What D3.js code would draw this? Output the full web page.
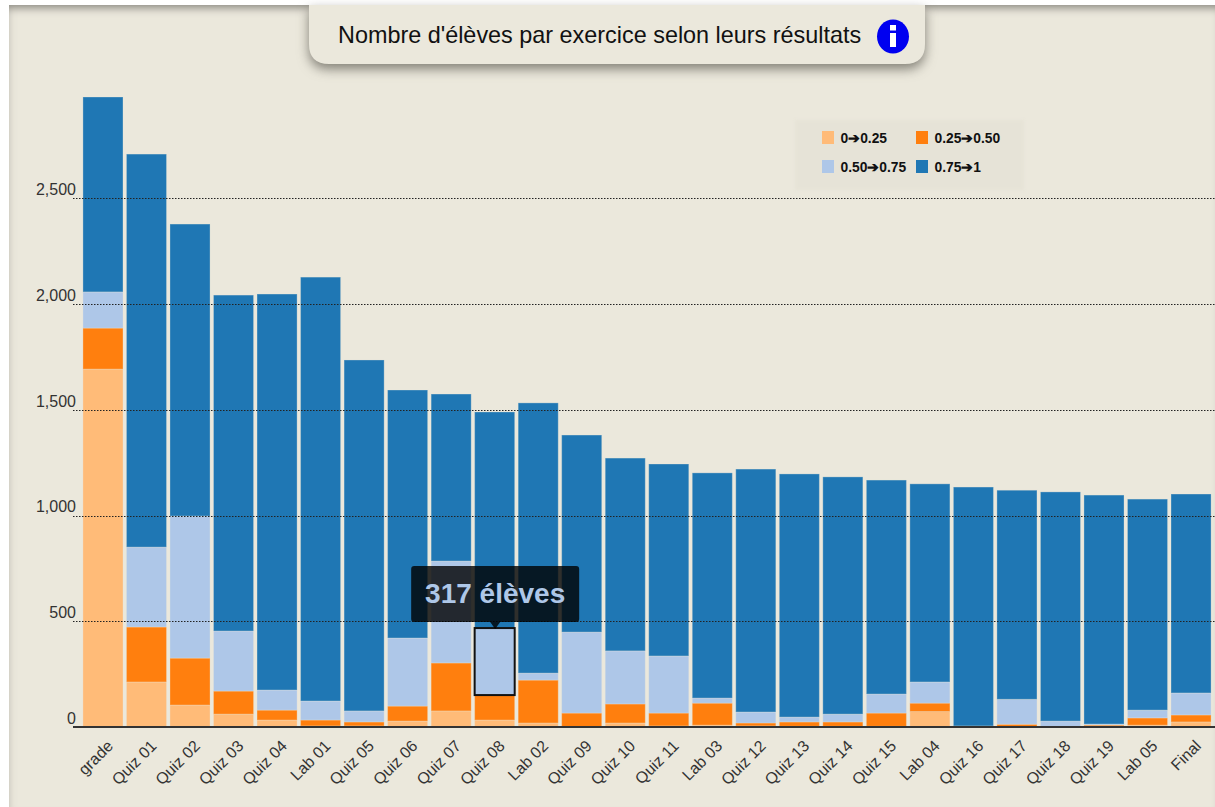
<!DOCTYPE html>
<html>
<head>
<meta charset="utf-8">
<script src="https://cdn.jsdelivr.net/npm/d3@7"></script>
<style>
html, body { margin: 0; padding: 0; background: #fff; overflow: hidden; }
#page {
    position: absolute; left: 9px; top: 5px; width: 1206px; height: 802px;
    background: #ebe8dc;
    box-shadow: inset 0 9px 8px -6px #8a8880, inset 8px 0 8px -8px #c8c6bc;
}
svg { position: absolute; left: 0; top: 0; font-family: "Liberation Sans", Arial, sans-serif; }
.grid line { stroke: #222; stroke-width: 1; stroke-dasharray: 1.5 1.5; }
.axis-y text { font-size: 16px; fill: #333; }
.axis-x text { font-size: 16px; fill: #333; }
</style>
</head>
<body>
<div id="page"></div>
<svg id="svg"></svg>
<script>
var width = 1215, height = 807;

var exercises = ["grade", "Quiz 01", "Quiz 02", "Quiz 03", "Quiz 04", "Lab 01", "Quiz 05", "Quiz 06", "Quiz 07", "Quiz 08", "Lab 02", "Quiz 09", "Quiz 10", "Quiz 11", "Lab 03", "Quiz 12", "Quiz 13", "Quiz 14", "Quiz 15", "Lab 04", "Quiz 16", "Quiz 17", "Quiz 18", "Quiz 19", "Lab 05", "Final"];

// number of students per score range
var range0 = [1693, 213, 104, 61, 33, 5, 5, 28, 76, 33, 19, 2, 19, 5, 9, 5, 3, 3, 3, 73, 0, 1, 0, 1, 9, 24];
var range1 = [194, 260, 222, 109, 47, 28, 19, 71, 227, 118, 203, 64, 90, 61, 104, 14, 21, 21, 63, 40, 1, 12, 2, 8, 34, 33];
var range2 = [171, 378, 672, 284, 95, 90, 52, 322, 482, 317, 33, 383, 251, 270, 24, 52, 23, 37, 90, 100, 4, 118, 26, 5, 37, 104];
var range3 = [922, 1859, 1381, 1589, 1873, 2005, 1660, 1173, 790, 1022, 1278, 932, 912, 908, 1065, 1149, 1150, 1122, 1012, 937, 1130, 989, 1084, 1083, 998, 941];

var rangeLabels = ["0\u27940.25", "0.25\u27940.50", "0.50\u27940.75", "0.75\u27941"];
var rangeColors = ["#ffbb78", "#ff7f0e", "#aec7e8", "#1f77b4"];
var yTicks = [0, 500, 1000, 1500, 2000, 2500];

var svg = d3.select("#svg").attr("width", width).attr("height", height);

var x = d3.scaleBand().domain(exercises).range([81.2, 1212.8]).paddingInner(0.08).paddingOuter(0.04);
var y = d3.scaleLinear().domain([0, 2980]).range([727, 97]);

// stack
var rows = exercises.map(function(e, i) {
    return { name: e, r0: range0[i], r1: range1[i], r2: range2[i], r3: range3[i] };
});
var keys = ["r0", "r1", "r2", "r3"];
var stacked = d3.stack().keys(keys)(rows);

var bars = svg.append("g").attr("class", "bars");
stacked.forEach(function(layer, k) {
    bars.append("g")
        .attr("fill", rangeColors[k])
        .selectAll("rect")
        .data(layer)
        .enter().append("rect")
        .attr("x", function(d) { return x(d.data.name); })
        .attr("y", function(d) { return y(d[1]); })
        .attr("width", x.bandwidth())
        .attr("height", function(d) { return Math.max(0, y(d[0]) - y(d[1])); })
        .attr("stroke", "#ebe8dc")
        .attr("stroke-opacity", 0.3)
        .attr("stroke-width", 1);
});

// gridlines + tick labels
var axisY = d3.axisLeft(y).tickValues(yTicks).tickFormat(d3.format(",")).tickSize(0);
var gy = svg.append("g").attr("class", "axis-y").attr("transform", "translate(79,0)").call(axisY);
gy.select(".domain").remove();
gy.selectAll("text").attr("x", -3).attr("dy", "-0.24em");

var grid = svg.append("g").attr("class", "grid");
grid.selectAll("line")
    .data(yTicks.filter(function(t) { return t > 0; }))
    .enter().append("line")
    .attr("x1", 73).attr("x2", width)
    .attr("y1", function(d) { return Math.round(y(d)) + 0.5; })
    .attr("y2", function(d) { return Math.round(y(d)) + 0.5; });

// x axis
var axisX = d3.axisBottom(x).tickSize(0);
var gx = svg.append("g").attr("class", "axis-x").attr("transform", "translate(0,727)").call(axisX);
gx.select(".domain").attr("d", "M73,0H" + width).attr("stroke", "#333").attr("stroke-width", 2);
gx.selectAll("text")
    .attr("text-anchor", "end")
    .attr("x", 0).attr("y", 0).attr("dy", 0)
    .attr("transform", "translate(11,20) rotate(-45)");

// hovered segment and its tooltip
var hoverIdx = exercises.indexOf("Quiz 08");
var hover = stacked[2][hoverIdx];
var hx = x("Quiz 08"), hw = x.bandwidth();
svg.append("rect")
    .attr("x", hx).attr("y", y(hover[1]))
    .attr("width", hw).attr("height", y(hover[0]) - y(hover[1]))
    .attr("fill", rangeColors[2])
    .attr("stroke", "#111").attr("stroke-width", 2);

var tipX = hx + hw / 2, tipY = y(hover[1]);
var tip = svg.append("g").attr("transform", "translate(" + (tipX + 0.5) + "," + tipY + ")");
tip.append("rect")
    .attr("x", -84).attr("y", -62).attr("width", 168).attr("height", 56).attr("rx", 3)
    .attr("fill", "#000").attr("fill-opacity", 0.8);
tip.append("path").attr("d", "M-5,-6L0,1L5,-6Z").attr("fill", "#000").attr("fill-opacity", 0.8);
tip.append("text")
    .attr("x", 0).attr("y", -25)
    .attr("text-anchor", "middle")
    .attr("font-size", 28).attr("font-weight", "bold")
    .attr("fill", rangeColors[2])
    .text(hover[1] - hover[0] + " \u00e9l\u00e8ves");

// legend
var legend = svg.append("g");
legend.append("rect")
    .attr("x", 795).attr("y", 120).attr("width", 229).attr("height", 70)
    .attr("fill", "#e6e3d7")
    .style("filter", "blur(1.5px)");
var legendX = [822, 916, 822, 916];
var legendY = [131, 131, 160, 160];
rangeLabels.forEach(function(t, i) {
    legend.append("rect")
        .attr("x", legendX[i]).attr("y", legendY[i])
        .attr("width", 12).attr("height", 13)
        .attr("fill", rangeColors[i]);
    legend.append("text")
        .attr("x", legendX[i] + 18.5).attr("y", legendY[i] + 11.5)
        .attr("font-size", 13.8).attr("font-weight", "bold")
        .attr("fill", "#111")
        .text(t);
});

// title panel
var panel = svg.append("g");
panel.append("path")
    .attr("d", "M309,5V44Q309,64 329,64H905Q925,64 925,44V5Z")
    .attr("fill", "#ebe8dc")
    .style("filter", "drop-shadow(0 5px 6px rgba(60,58,50,0.6))");
panel.append("text")
    .attr("x", 338).attr("y", 43)
    .attr("font-size", 23.4).attr("fill", "#111")
    .text("Nombre d'\u00e9l\u00e8ves par exercice selon leurs r\u00e9sultats");
panel.append("ellipse").attr("cx", 893).attr("cy", 36.5).attr("rx", 16).attr("ry", 17).attr("fill", "#0000f0");
panel.append("rect").attr("x", 890).attr("y", 25).attr("width", 6).attr("height", 5.5).attr("fill", "#fff");
panel.append("rect").attr("x", 890).attr("y", 33).attr("width", 6).attr("height", 14).attr("fill", "#fff");
</script>
</body>
</html>
